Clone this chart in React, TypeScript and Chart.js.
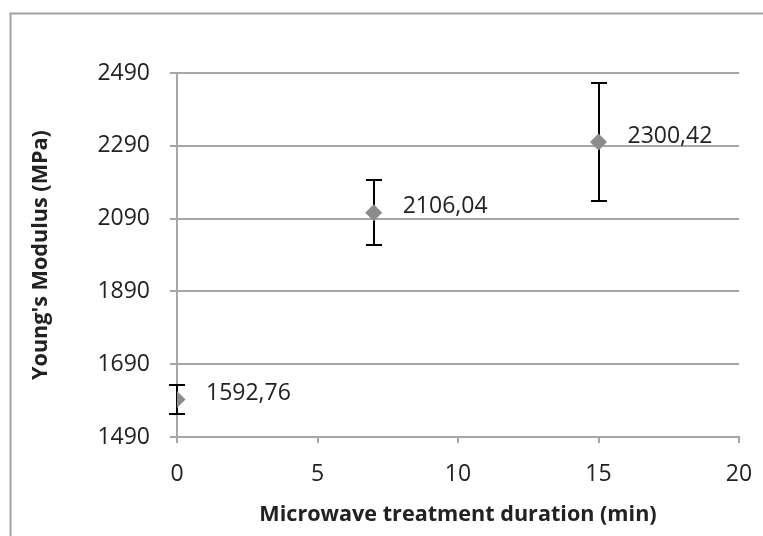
import React, { useEffect, useRef } from "react";
import { Chart, registerables } from "chart.js";

Chart.register(...registerables);

const durations = [0, 7, 15];
const modulus = [1592.76, 2106.04, 2300.42];
const errors = [40, 89, 161];
const yMin = 1490;
const yMax = 2490;
const yStep = 200;
const xMin = 0;
const xMax = 20;
const xStep = 5;
const xTitle = "Microwave treatment duration (min)";
const yTitle = "Young's Modulus (MPa)";

const FONT = "'Open Sans', Lato, sans-serif";
const GRID = "#a6a6a6";
const TEXT = "#222222";

const fmt = (v: number) => v.toFixed(2).replace(".", ",");

const frame = {
  id: "frame",
  beforeDraw(chart: any) {
    const ctx = chart.ctx;
    ctx.save();
    ctx.fillStyle = "#ffffff";
    ctx.fillRect(0, 0, chart.width, chart.height);
    ctx.strokeStyle = "#a3a3a3";
    ctx.lineWidth = 2;
    ctx.beginPath();
    ctx.moveTo(10.5, chart.height);
    ctx.lineTo(10.5, 13.5);
    ctx.lineTo(chart.width, 13.5);
    ctx.stroke();
    ctx.restore();
  },
};

const errorBars = {
  id: "errorBars",
  beforeDatasetsDraw(chart: any) {
    const ctx = chart.ctx;
    const xs = chart.scales.x;
    const ys = chart.scales.y;
    ctx.save();
    ctx.strokeStyle = "#000000";
    ctx.lineWidth = 2;
    durations.forEach((d, i) => {
      const x = Math.round(xs.getPixelForValue(d));
      const yt = Math.round(ys.getPixelForValue(modulus[i] + errors[i]));
      const yb = Math.round(ys.getPixelForValue(modulus[i] - errors[i]));
      ctx.beginPath();
      ctx.moveTo(x, yt);
      ctx.lineTo(x, yb);
      ctx.moveTo(x - 8, yt);
      ctx.lineTo(x + 8, yt);
      ctx.moveTo(x - 8, yb);
      ctx.lineTo(x + 8, yb);
      ctx.stroke();
    });
    ctx.restore();
  },
};

const valueLabels = {
  id: "valueLabels",
  afterDatasetsDraw(chart: any) {
    const ctx = chart.ctx;
    const xs = chart.scales.x;
    const ys = chart.scales.y;
    ctx.save();
    ctx.fillStyle = TEXT;
    ctx.font = `23px ${FONT}`;
    ctx.textAlign = "left";
    ctx.textBaseline = "middle";
    durations.forEach((d, i) => {
      const x = xs.getPixelForValue(d);
      const y = ys.getPixelForValue(modulus[i]);
      ctx.fillText(fmt(modulus[i]), x + 29, y - 6);
    });
    ctx.restore();
  },
};

export default function App() {
  const ref = useRef<HTMLCanvasElement | null>(null);
  useEffect(() => {
    document.body.style.margin = "0";
    const canvas = ref.current!;
    const chart = new Chart(canvas, {
      type: "scatter",
      data: {
        datasets: [
          {
            data: durations.map((d, i) => ({ x: d, y: modulus[i] })),
            pointStyle: "rectRot",
            pointRadius: 8.5,
            pointHoverRadius: 8.5,
            backgroundColor: "#8c8c8c",
            borderColor: "#8c8c8c",
            borderWidth: 0,
            showLine: false,
          },
        ],
      },
      options: {
        animation: false,
        responsive: false,
        devicePixelRatio: 1,
        events: [],
        layout: { padding: { top: 73, right: 24, bottom: 0, left: 0 } },
        plugins: {
          legend: { display: false },
          tooltip: { enabled: false },
          title: { display: false },
        },
        scales: {
          x: {
            type: "linear",
            min: xMin,
            max: xMax,
            afterFit: (s: any) => {
              s.height = 99;
              s.paddingRight = 24;
              s.paddingLeft = 0;
            },
            ticks: {
              stepSize: xStep,
              color: TEXT,
              font: { family: FONT, size: 23 },
              padding: 18,
              maxRotation: 0,
              callback: (v: any) => String(v),
            },
            grid: {
              display: true,
              drawOnChartArea: false,
              drawTicks: true,
              tickLength: 6,
              color: GRID,
              lineWidth: 2,
            },
            border: { display: true, color: GRID, width: 2 },
            title: {
              display: true,
              text: xTitle,
              color: TEXT,
              font: { family: FONT, size: 21.6, weight: "bold" },
              padding: { top: 0, bottom: 8 },
            },
          },
          y: {
            type: "linear",
            min: yMin,
            max: yMax,
            afterFit: (s: any) => {
              s.width = 177;
            },
            ticks: {
              stepSize: yStep,
              color: TEXT,
              font: { family: FONT, size: 23 },
              padding: 20,
              callback: (v: any) => String(v),
            },
            grid: {
              color: GRID,
              lineWidth: 2,
              tickLength: 7,
            },
            border: { display: true, color: GRID, width: 2 },
            title: {
              display: true,
              text: yTitle,
              color: TEXT,
              font: { family: FONT, size: 21.6, weight: "bold" },
              padding: { top: 28, bottom: 0 },
            },
          },
        },
      },
      plugins: [frame, errorBars, valueLabels],
    });
    return () => chart.destroy();
  }, []);
  return <canvas ref={ref} width={763} height={536} style={{ display: "block" }} />;
}
